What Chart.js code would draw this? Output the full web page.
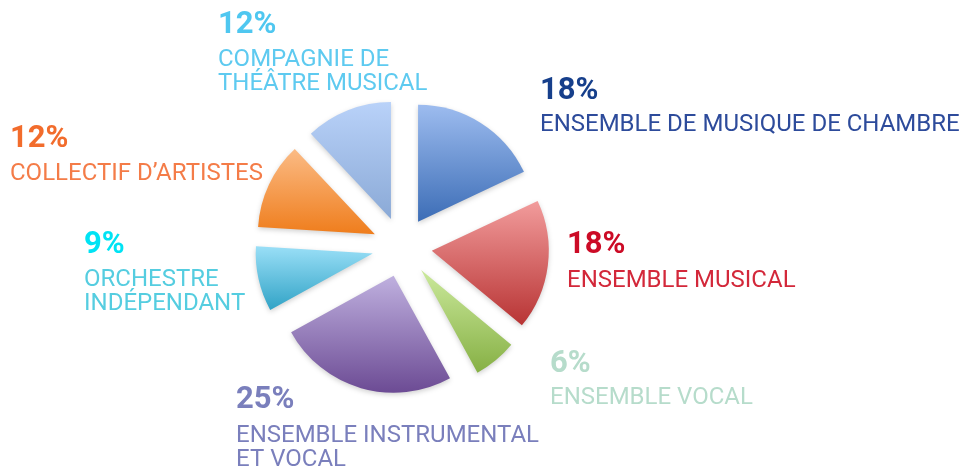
<!DOCTYPE html>
<html>
<head>
<meta charset="utf-8">
<script src="https://cdn.jsdelivr.net/npm/chart.js@4.4.0/dist/chart.umd.min.js"></script>
<style>
  html, body { margin: 0; padding: 0; background: #fff; overflow: hidden; }
</style>
</head>
<body>
<canvas id="pieChart" width="965" height="466"></canvas>
<script>
const categories = ["ENSEMBLE DE MUSIQUE DE CHAMBRE", "ENSEMBLE MUSICAL", "ENSEMBLE VOCAL", "ENSEMBLE INSTRUMENTAL ET VOCAL", "ORCHESTRE INDÉPENDANT", "COLLECTIF D’ARTISTES", "COMPAGNIE DE THÉÂTRE MUSICAL"];
const shares = [18, 18, 6, 25, 9, 12, 12];
const labelLines = [
  ["ENSEMBLE DE MUSIQUE DE CHAMBRE"],
  ["ENSEMBLE MUSICAL"],
  ["ENSEMBLE VOCAL"],
  ["ENSEMBLE INSTRUMENTAL", "ET VOCAL"],
  ["ORCHESTRE", "INDÉPENDANT"],
  ["COLLECTIF D’ARTISTES"],
  ["COMPAGNIE DE", "THÉÂTRE MUSICAL"]
];

// slice gradients (top -> bottom) and text colours
const topColors = ["#9dbcef", "#f29c9c", "#cbe99c", "#bfb0df", "#9adff7", "#fbbb85", "#b9d2f9"];
const bottomColors = ["#3c6db6", "#b83434", "#86b044", "#6c4b94", "#31a3c6", "#ef7d1c", "#8aa9d6"];
const pctColors = ["#163f8b", "#cc0b26", "#b6dccb", "#7a7fbc", "#00e3f4", "#f26c2c", "#4fc7f0"];
const textColors = ["#2d4b9b", "#d3283a", "#b6dccb", "#7a7fbc", "#55cde0", "#f47c48", "#5ecaf0"];

// text placement: left x, baseline of the percentage, baseline of the first label line
const textLayout = [
  { x: 540, pct: 99, line: 131 },
  { x: 567, pct: 253, line: 287 },
  { x: 550, pct: 372, line: 404 },
  { x: 236, pct: 408, line: 442 },
  { x: 84, pct: 253, line: 286 },
  { x: 10, pct: 147, line: 180 },
  { x: 218, pct: 33, line: 66 }
];

const RADIUS = 117;
const SLICE_SHIFT = 30;
const LINE_HEIGHT = 24;

function sliceGradient(context) {
  const i = context.dataIndex;
  const chart = context.chart;
  const area = chart.chartArea;
  if (i === undefined || !area) return bottomColors[i || 0];
  const total = shares.reduce((a, b) => a + b, 0);
  const before = shares.slice(0, i).reduce((a, b) => a + b, 0);
  const a0 = -Math.PI / 2 + before / total * Math.PI * 2;
  const a1 = a0 + shares[i] / total * Math.PI * 2;
  let top = 0, bottom = 0;
  for (let k = 0; k <= 24; k++) {
    const y = Math.sin(a0 + (a1 - a0) * k / 24) * RADIUS;
    top = Math.min(top, y);
    bottom = Math.max(bottom, y);
  }
  const cy = (area.top + area.bottom) / 2;
  const g = chart.ctx.createLinearGradient(0, cy + top, 0, cy + bottom);
  g.addColorStop(0, topColors[i]);
  g.addColorStop(1, bottomColors[i]);
  return g;
}

// draw each arc pushed out along its middle angle
const explode = {
  id: "explode",
  beforeDatasetDraw(chart, args) {
    const ctx = chart.ctx;
    args.meta.data.forEach((arc) => {
      const mid = (arc.startAngle + arc.endAngle) / 2;
      ctx.save();
      ctx.translate(Math.cos(mid) * SLICE_SHIFT, Math.sin(mid) * SLICE_SHIFT);
      ctx.shadowColor = "rgba(0,0,0,0.18)";
      ctx.shadowBlur = 5;
      ctx.shadowOffsetY = 2;
      arc.draw(ctx, chart.chartArea);
      ctx.restore();
    });
    return false;
  }
};

const sliceLabels = {
  id: "sliceLabels",
  afterDraw(chart) {
    const ctx = chart.ctx;
    const total = shares.reduce((a, b) => a + b, 0);
    ctx.save();
    ctx.textAlign = "left";
    ctx.textBaseline = "alphabetic";
    shares.forEach((v, i) => {
      const pos = textLayout[i];
      ctx.font = "bold 31px Roboto";
      ctx.fillStyle = pctColors[i];
      ctx.fillText(Math.round(v / total * 100) + "%", pos.x, pos.pct);
      ctx.font = "24px Roboto";
      ctx.fillStyle = textColors[i];
      labelLines[i].forEach((t, j) => ctx.fillText(t, pos.x, pos.line + j * LINE_HEIGHT));
    });
    ctx.restore();
  }
};

new Chart(document.getElementById("pieChart"), {
  type: "pie",
  data: {
    labels: categories,
    datasets: [{
      data: shares,
      backgroundColor: sliceGradient,
      borderWidth: 0
    }]
  },
  options: {
    responsive: false,
    animation: false,
    events: [],
    radius: RADIUS,
    layout: { padding: { left: 0, right: 161, top: 28, bottom: 0 } },
    plugins: { legend: { display: false }, tooltip: { enabled: false } }
  },
  plugins: [explode, sliceLabels]
});
</script>
</body>
</html>
